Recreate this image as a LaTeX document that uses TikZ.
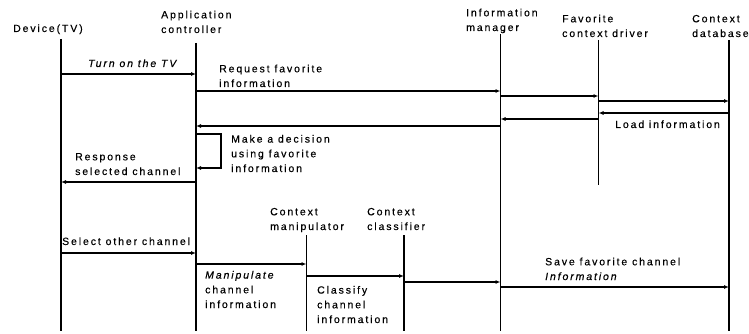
\documentclass[tikz,border=0pt]{standalone}
\usepackage{fontspec}
\setmainfont{Liberation Sans}[LetterSpace=18,FakeBold=0.4]
\usetikzlibrary{arrows.meta}
\tikzset{
  life/.style={line width=1.8pt},
  msg/.style={line width=1.2pt,-{Latex[length=5pt,width=4pt]}},
  lbl/.style={anchor=base west,inner sep=0pt,align=left,font=\fontsize{10.5}{14.7}\selectfont},
}
\begin{document}
\begin{tikzpicture}[x=1pt,y=-1pt]
\useasboundingbox (0,0) rectangle (749,334);
% lifeline coordinates
\coordinate (devT) at (61,39);   \coordinate (devB) at (61,331);
\coordinate (appT) at (196,43);  \coordinate (appB) at (196,331);
\coordinate (imT) at (500.5,34); \coordinate (imB) at (500.5,331);
\coordinate (fcdT) at (598.5,40);\coordinate (fcdB) at (598.5,185);
\coordinate (cdbT) at (729,40);  \coordinate (cdbB) at (729,331);
\coordinate (cmT) at (306.5,235);\coordinate (cmB) at (306.5,331);
\coordinate (ccT) at (404,235);  \coordinate (ccB) at (404,331);
\foreach \a in {dev,app,im,fcd,cdb,cm,cc} \draw[life] (\a T) -- (\a B);
% headers (anchored at the baseline of their last line)
\node[lbl] (hdev) at (13,32) {Device(TV)};
\node[lbl] (happ) at (161,33) {Application\\controller};
\node[lbl] (him) at (466,31) {Information\\manager};
\node[lbl] (hfcd) at (562,37) {Favorite\\context driver};
\node[lbl] (hcdb) at (692,37) {Context\\database};
\node[lbl] (hcm) at (270,230) {Context\\manipulator};
\node[lbl] (hcc) at (367,230) {Context\\classifier};
% messages
\draw[msg] (devT |- 0,74) -- (appT |- 0,74);
\node[lbl,font=\fontsize{10.5}{14.7}\selectfont\itshape] (l1) at (88,67) {Turn on the TV};
\draw[msg] (appT |- 0,91) -- (imT |- 0,91);
\node[lbl] (l2) at (219,87) {Request favorite\\information};
\draw[msg] (imT |- 0,96) -- (fcdT |- 0,96);
\draw[msg] (fcdT |- 0,101) -- (cdbT |- 0,101);
\draw[msg] (cdbT |- 0,113) -- (fcdT |- 0,113);
\node[lbl] (l5) at (615,128) {Load information};
\draw[msg] (fcdT |- 0,119) -- (imT |- 0,119);
\draw[msg] (imT |- 0,126) -- (appT |- 0,126);
\coordinate (s1) at (221,134);
\coordinate (s2) at (221,168);
\draw[msg] (appT |- s1) -- (s1) -- (s2) -- (appT |- s2);
\node[lbl] (l8) at (231,172) {Make a decision\\using favorite\\information};
\draw[msg] (appT |- 0,182) -- (devT |- 0,182);
\node[lbl] (l9) at (75,175) {Response\\selected channel};
\draw[msg] (devT |- 0,253) -- (appT |- 0,253);
\node[lbl] (l10) at (62,245) {Select other channel};
\draw[msg] (appT |- 0,264) -- (cmT |- 0,264);
\node[lbl] (l11) at (205,308) {\itshape Manipulate\\channel\\information};
\draw[msg] (cmT |- 0,276) -- (ccT |- 0,276);
\node[lbl] (l12) at (317,323) {Classify\\channel\\information};
\draw[msg] (ccT |- 0,282) -- (imT |- 0,282);
\draw[msg] (imT |- 0,287) -- (cdbT |- 0,287);
\node[lbl] (l14) at (545,280) {Save favorite channel\\\itshape Information};
\end{tikzpicture}
\end{document}
